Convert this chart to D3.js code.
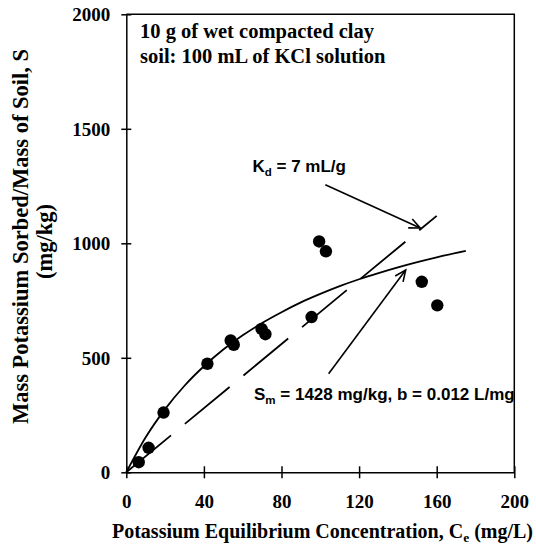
<!DOCTYPE html>
<html>
<head>
<meta charset="utf-8">
<script src="https://cdn.jsdelivr.net/npm/d3@7"></script>
<style>
  html, body { margin: 0; padding: 0; background: #fff; }
  svg { display: block; }
</style>
</head>
<body>
<svg id="chart" width="536" height="551"></svg>
<script>
// ---- data ----
const concentration = [6.4, 11.5, 19.2, 41.8, 53.8, 55.4, 69.7, 71.7, 95.5, 99.4, 102.9, 152.3, 160.3];
const sorbed        = [44, 107, 261, 474, 576, 557, 626, 603, 678, 1008, 965, 832, 729];

const langmuirC = [0, 10, 20, 30, 40, 50, 60, 70, 80, 90, 100, 110, 120, 130, 140, 150, 160, 175];
const langmuirS = [0, 153, 276, 378, 463, 536, 598, 652, 699, 742, 779, 813, 843, 870, 895, 918, 939, 967];

const linearC = [0, 160];
const linearS = [0, 1120];

const xTicks = [0, 40, 80, 120, 160, 200];
const yTicks = [0, 500, 1000, 1500, 2000];

const boxLines = ["10 g of wet compacted clay", "soil: 100 mL of KCl solution"];

// ---- layout ----
const svg = d3.select("#chart");
const margin = { left: 126.3, right: 536 - 514.3, top: 14.3, bottom: 551 - 472.3 };
const W = 536 - margin.left - margin.right;
const H = 551 - margin.top - margin.bottom;

const x = d3.scaleLinear().domain([0, 200]).range([margin.left, margin.left + W]);
const y = d3.scaleLinear().domain([0, 2000]).range([margin.top + H, margin.top]);

const serif = "'Liberation Serif', 'Times New Roman', serif";
const sans = "'Liberation Sans', Arial, sans-serif";

// frame (top & right)
svg.append("path")
  .attr("d", `M${x(0)},${y(2000)}H${x(200)}V${y(0)}`)
  .attr("fill", "none").attr("stroke", "#000").attr("stroke-width", 1.5);

// axes
const xAxis = svg.append("g")
  .attr("transform", `translate(0,${y(0)})`)
  .call(d3.axisBottom(x).tickValues(xTicks).tickSize(0).tickFormat(d3.format("d")));
const yAxis = svg.append("g")
  .attr("transform", `translate(${x(0)},0)`)
  .call(d3.axisLeft(y).tickValues(yTicks).tickSize(0).tickFormat(d3.format("d")));

[xAxis, yAxis].forEach(g => {
  g.select(".domain").attr("stroke", "#000").attr("stroke-width", 1.5);
  g.selectAll(".tick text")
    .attr("font-family", serif).attr("font-weight", "bold").attr("font-size", 19).attr("fill", "#000");
});
// crossing tick marks
xAxis.selectAll(".tick").append("line")
  .attr("y1", -6).attr("y2", 6).attr("stroke", "#000").attr("stroke-width", 1.5);
yAxis.selectAll(".tick").append("line")
  .attr("x1", -5).attr("x2", 5).attr("stroke", "#000").attr("stroke-width", 1.5);
xAxis.selectAll(".tick text").attr("y", 22).attr("dy", "0.71em");
yAxis.selectAll(".tick text").attr("x", -16).attr("dy", "0.34em");

// Langmuir curve
const pts = langmuirC.map((c, i) => [c, langmuirS[i]]);
svg.append("path")
  .datum(pts)
  .attr("fill", "none").attr("stroke", "#000").attr("stroke-width", 1.8)
  .attr("d", d3.line().x(d => x(d[0])).y(d => y(d[1])).curve(d3.curveMonotoneX));

// linear (dashed) line
const lin = linearC.map((c, i) => [c, linearS[i]]);
svg.append("path")
  .datum(lin)
  .attr("fill", "none").attr("stroke", "#000").attr("stroke-width", 1.8)
  .attr("stroke-dasharray", "58,18")
  .attr("d", d3.line().x(d => x(d[0])).y(d => y(d[1])));

// data points
svg.append("g").selectAll("circle")
  .data(concentration.map((c, i) => [c, sorbed[i]]))
  .join("circle")
  .attr("cx", d => x(d[0])).attr("cy", d => y(d[1])).attr("r", 6.2)
  .attr("fill", "#000");

// arrows (annotation anchors in data units)
function arrow(from, to) {
  const x1 = x(from[0]), y1 = y(from[1]), x2 = x(to[0]), y2 = y(to[1]);
  const ang = Math.atan2(y2 - y1, x2 - x1);
  const L = 12, a = 0.42;
  svg.append("line").attr("x1", x1).attr("y1", y1).attr("x2", x2).attr("y2", y2)
    .attr("stroke", "#000").attr("stroke-width", 1.6);
  const p1 = [x2 - L * Math.cos(ang - a), y2 - L * Math.sin(ang - a)];
  const p2 = [x2 - L * Math.cos(ang + a), y2 - L * Math.sin(ang + a)];
  svg.append("path").attr("d", `M${p1}L${x2},${y2}L${p2}`)
    .attr("fill", "none").attr("stroke", "#000").attr("stroke-width", 1.6);
}
arrow([102.6, 1256], [151.5, 1067]);
arrow([104.3, 430], [144.0, 883]);

// annotation texts
const kd = svg.append("text").attr("x", 252.5).attr("y", 171.7)
  .attr("font-family", sans).attr("font-weight", "bold").attr("font-size", 17).attr("fill", "#000");
kd.append("tspan").text("K");
kd.append("tspan").attr("font-size", 11.5).attr("dy", 4).text("d");
kd.append("tspan").attr("dy", -4).text(" = 7 mL/g");

const sm = svg.append("text").attr("x", 254).attr("y", 400)
  .attr("font-family", sans).attr("font-weight", "bold").attr("font-size", 17).attr("fill", "#000");
sm.append("tspan").text("S");
sm.append("tspan").attr("font-size", 11.5).attr("dy", 4).text("m");
sm.append("tspan").attr("dy", -4).text(" = 1428 mg/kg, b = 0.012 L/mg");

// box text
svg.append("g").selectAll("text").data(boxLines).join("text")
  .attr("x", 140).attr("y", (d, i) => 37.7 + i * 25.6)
  .attr("font-family", serif).attr("font-weight", "bold").attr("font-size", 20.5).attr("fill", "#000")
  .text(d => d);

// axis titles
const xt = svg.append("text").attr("x", 322.5).attr("y", 538).attr("text-anchor", "middle")
  .attr("font-family", serif).attr("font-weight", "bold").attr("font-size", 20).attr("fill", "#000");
xt.append("tspan").text("Potassium Equilibrium Concentration, C");
xt.append("tspan").attr("font-size", 13.5).attr("dy", 4).text("e");
xt.append("tspan").attr("dy", -4).text(" (mg/L)");

const yt = svg.append("g").attr("transform", "translate(0,236.5) rotate(-90)");
yt.append("text").attr("x", 0).attr("y", 28).attr("text-anchor", "middle")
  .attr("font-family", serif).attr("font-weight", "bold").attr("font-size", 22.5).attr("fill", "#000")
  .text("Mass Potassium Sorbed/Mass of Soil, S");
yt.append("text").attr("x", -5).attr("y", 52).attr("text-anchor", "middle")
  .attr("font-family", serif).attr("font-weight", "bold").attr("font-size", 22.5).attr("fill", "#000")
  .text("(mg/kg)");
</script>
</body>
</html>
